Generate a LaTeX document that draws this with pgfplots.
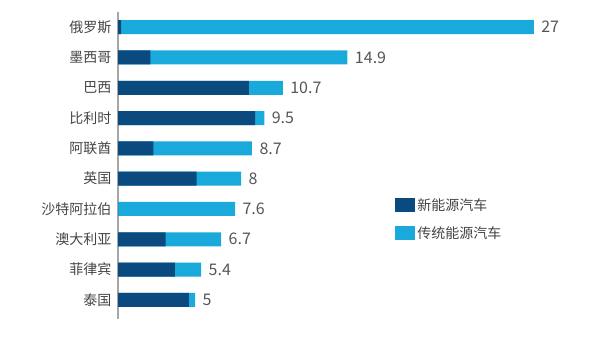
\documentclass[border=0pt]{standalone}
\usepackage{pgfplots}
\usepackage{pgfplotstable}
\pgfplotsset{compat=1.18}
\usepackage{fontspec}
\setmainfont{Noto Sans CJK SC}
\definecolor{dk}{HTML}{0B4A7E}
\definecolor{lt}{HTML}{1AA9DB}
\definecolor{txt}{HTML}{444444}
\definecolor{num}{HTML}{555555}
\pgfplotstableread{
idx dark light total
0 4.6 0.4 5
1 3.7 1.7 5.4
2 3.1 3.6 6.7
3 0 7.6 7.6
4 5.1 2.9 8
5 2.3 6.4 8.7
6 8.9 0.6 9.5
7 8.5 2.2 10.7
8 2.1 12.8 14.9
9 0.2 26.8 27
}\data
\begin{document}
\begin{tikzpicture}
\useasboundingbox (0,0) rectangle (600pt,339pt);
\begin{axis}[
  at={(118pt,20pt)}, anchor=south west,
  scale only axis,
  width=462pt, height=307pt,
  xmin=0, xmax=30,
  ymin=-0.63, ymax=9.5,
  xbar=0pt, bar shift=0pt,
  bar width=14pt,
  axis x line=none,
  axis y line=left,
  y axis line style={-, draw=gray!70, line width=1.2pt},
  ytick={0,...,9},
  yticklabels={泰国,菲律宾,澳大利亚,沙特阿拉伯,英国,阿联酋,比利时,巴西,墨西哥,俄罗斯},
  major tick length=0pt,
  yticklabel style={font=\fontsize{14pt}{16pt}\selectfont, text=txt, xshift=-3pt},
  legend style={at={(0.60,0.40)}, anchor=north west, draw=none, fill=none,
    font=\fontsize{14pt}{16pt}\selectfont, text=txt,
    row sep=11pt, inner sep=0pt},
  legend cell align=left,
  legend image code/.code={\fill[#1] (0pt,-7pt) rectangle (20pt,7pt);},
]
\addlegendimage{fill=dk, draw=none}
\addlegendentry{新能源汽车}
\addlegendimage{fill=lt, draw=none}
\addlegendentry{传统能源汽车}
% light segment drawn as full bar (dark + light), dark drawn over it
\addplot[fill=lt, draw=none, forget plot] table[x=total, y=idx]{\data};
\addplot[fill=dk, draw=none, forget plot] table[x=dark, y=idx]{\data};
\addplot[draw=none, fill=none, forget plot,
  point meta=explicit,
  nodes near coords={\pgfmathprintnumber{\pgfplotspointmeta}},
  nodes near coords style={anchor=west, xshift=4pt, text=num,
    font=\fontsize{16pt}{18pt}\selectfont,
    /pgf/number format/assume math mode=true}
  ] table[x=total, y=idx, meta=total]{\data};
\end{axis}
\end{tikzpicture}
\end{document}
